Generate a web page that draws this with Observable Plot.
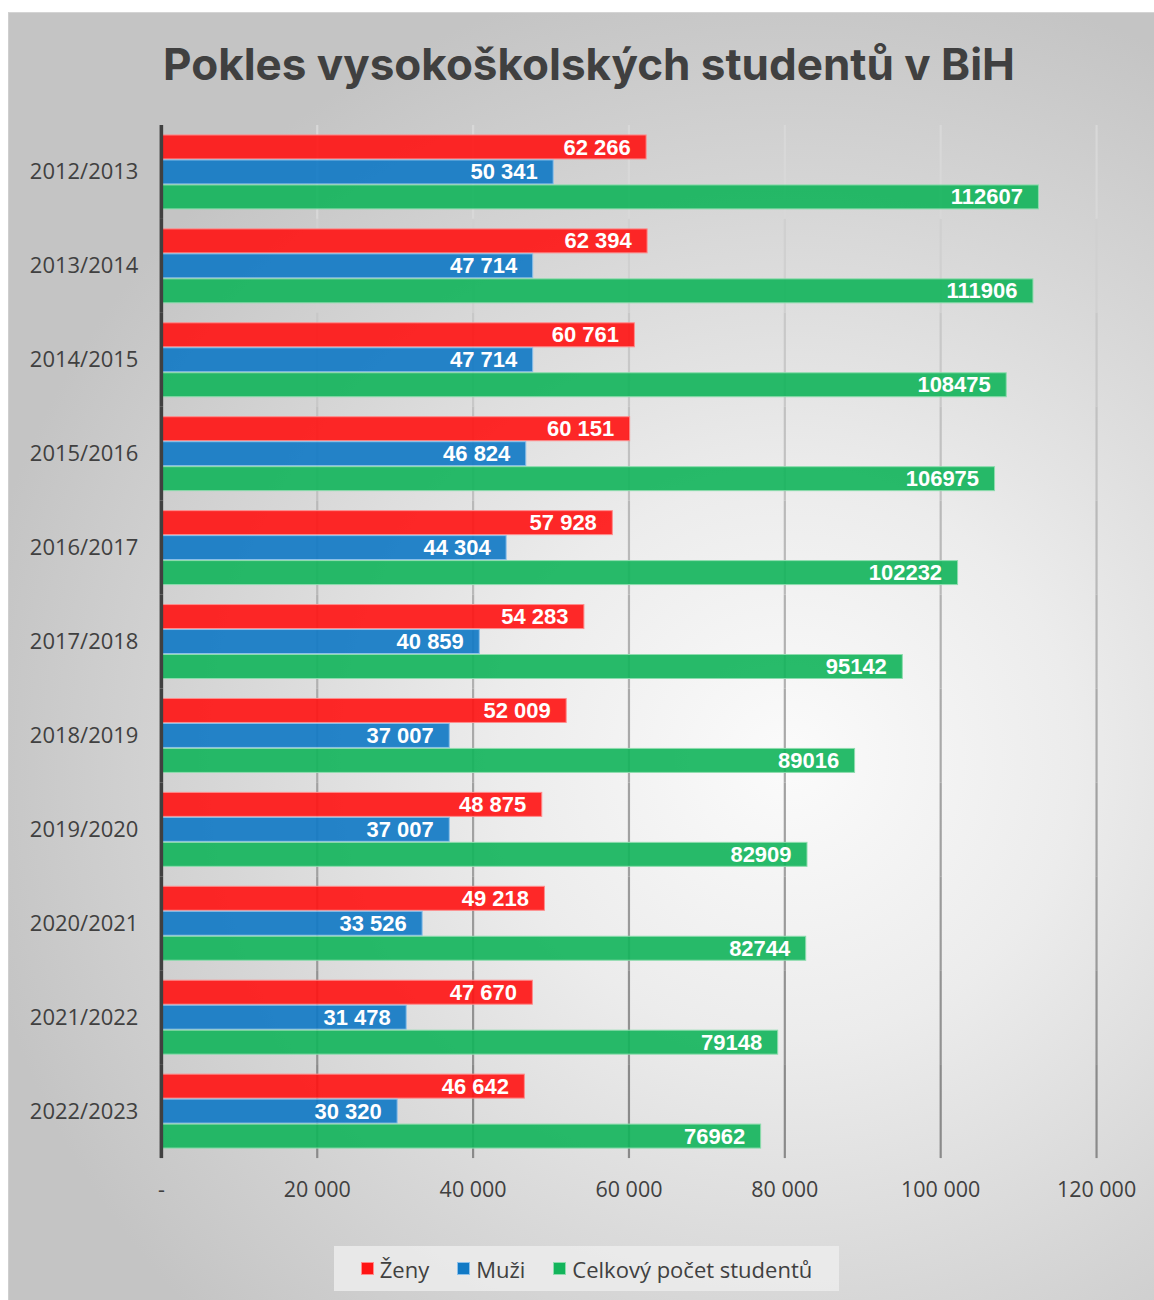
<!DOCTYPE html>
<html>
<head>
<meta charset="utf-8">
<script src="https://cdn.jsdelivr.net/npm/d3@7"></script>
<script src="https://cdn.jsdelivr.net/npm/@observablehq/plot@0.6"></script>
<style>
  html, body { margin: 0; padding: 0; background: #ffffff; }
  #panel {
    position: absolute; left: 8px; top: 12px; width: 1146px; height: 1288px;
    box-sizing: border-box; border-top: 1px solid #d4d4d4; border-left: 1px solid #cfcfcf;
    background: radial-gradient(ellipse 72% 62% at 68% 58%, #fbfbfb 0%, #ececec 35%, #d6d6d6 70%, #c4c4c4 100%);
    overflow: hidden;
  }
  #title {
    position: absolute; left: 0; top: 24px; width: 1160px; text-align: center;
    font-family: Inter, "Noto Sans", sans-serif; font-weight: 700; font-size: 44px; color: #404040;
  }
  #chart { position: absolute; left: 0; top: 88px; }
  #legend {
    position: absolute; left: 325px; top: 1233px; width: 505px; height: 45px;
    background: rgba(236,236,236,0.85);
    display: flex; align-items: center; justify-content: center; gap: 28px;
    font-family: "Open Sans", sans-serif; font-size: 22px; color: #404040;
  }
  .item { display: flex; align-items: center; gap: 6px; }
  .sw { width: 11px; height: 11px; border: 1px solid; }
</style>
</head>
<body>
<div id="panel">
  <div id="title">Pokles vysokoškolských studentů v BiH</div>
  <div id="chart"></div>
  <div id="legend"></div>
</div>
<script>
const years = ["2012/2013","2013/2014","2014/2015","2015/2016","2016/2017","2017/2018","2018/2019","2019/2020","2020/2021","2021/2022","2022/2023"];
const zeny = [62266, 62394, 60761, 60151, 57928, 54283, 52009, 48875, 49218, 47670, 46642];
const muzi = [50341, 47714, 47714, 46824, 44304, 40859, 37007, 37007, 33526, 31478, 30320];
const celkem = [112607, 111906, 108475, 106975, 102232, 95142, 89016, 82909, 82744, 79148, 76962];
const series = ["Ženy", "Muži", "Celkový počet studentů"];
const fills = ["#ff1414", "#1079c5", "#13b45b"];
const strokes = ["#ff8c8c", "#8cc0ea", "#8edcae"];
const xTicks = [0, 20000, 40000, 60000, 80000, 100000, 120000];

const values = [zeny, muzi, celkem];
const data = years.flatMap((y, i) => series.map((s, j) => ({year: y, series: s, si: j, value: values[j][i]})));
const grid = years.flatMap((y, i) => xTicks.slice(1).map(t => ({year: y, t, i})));
const gridColor = d3.interpolateRgb("#d8d8d8", "#8a8a8a");

const spaced = v => d3.format(",")(v).replace(/,/g, " ");
const labelOf = d => d.si === 2 ? String(d.value) : spaced(d.value);

const chart = Plot.plot({
  width: 1146,
  height: 1118,
  marginLeft: 152,
  marginRight: 58,
  marginTop: 24,
  marginBottom: 60,
  style: {background: "transparent", overflow: "visible", fontFamily: "'Open Sans', sans-serif", color: "#404040"},
  x: {domain: [0, 120000]},
  y: {domain: series, paddingInner: 0.047, paddingOuter: 0.352, axis: null},
  fy: {domain: years, padding: 0, axis: null},
  marks: [
    Plot.ruleX(grid, {x: "t", fy: "year", stroke: d => gridColor(d.i / 10), strokeWidth: 2.2}),
    Plot.barX(data, {fy: "year", y: "series", x: "value", fill: d => fills[d.si], stroke: d => strokes[d.si], strokeWidth: 1, fillOpacity: 0.91}),
    Plot.ruleX([0], {stroke: "#404040", strokeWidth: 3.6}),
    Plot.text(data, {fy: "year", y: "series", x: "value", text: labelOf, textAnchor: "end", dx: -16, fill: "white", fontWeight: "bold", fontSize: 22, fontFamily: "'Liberation Sans', Arial, sans-serif"}),
    Plot.axisFy({anchor: "left", tickSize: 0, tickPadding: 23, fontSize: 22, label: null}),
    Plot.axisX(xTicks, {tickSize: 0, tickPadding: 23, fontSize: 21.5, label: null, tickFormat: d => d === 0 ? "-" : spaced(d)})
  ]
});
document.getElementById("chart").appendChild(chart);

const legend = document.getElementById("legend");
series.forEach((s, j) => {
  const it = document.createElement("div");
  it.className = "item";
  const sw = document.createElement("span");
  sw.className = "sw";
  sw.style.background = fills[j];
  sw.style.borderColor = strokes[j];
  const tx = document.createElement("span");
  tx.textContent = s;
  it.appendChild(sw); it.appendChild(tx);
  legend.appendChild(it);
});
</script>
</body>
</html>
